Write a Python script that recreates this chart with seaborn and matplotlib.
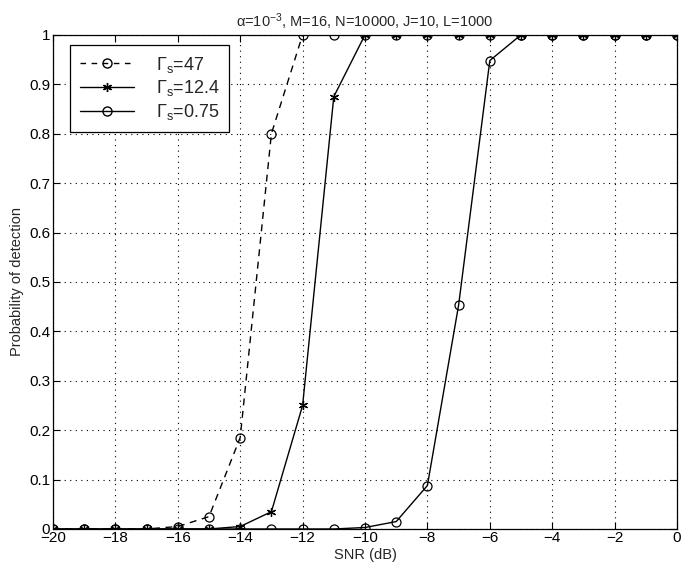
import numpy as np
import pandas as pd
import matplotlib
matplotlib.use("Agg")
import matplotlib.pyplot as plt
import seaborn as sns
from matplotlib.lines import Line2D

snr = list(range(-20, 1))
pd_47 = [0, 0, 0, 0, 0.005, 0.025, 0.185, 0.80, 1, 1, 1, 1, 1, 1, 1, 1, 1, 1, 1, 1, 1]
pd_124 = [0, 0, 0, 0, 0, 0, 0.005, 0.035, 0.25, 0.875, 1, 1, 1, 1, 1, 1, 1, 1, 1, 1, 1]
pd_075 = [0, 0, 0, 0, 0, 0, 0, 0, 0, 0, 0.003, 0.015, 0.088, 0.453, 0.948, 1, 1, 1, 1, 1, 1]
labels = [r"$\Gamma_s$=47", r"$\Gamma_s$=12.4", r"$\Gamma_s$=0.75"]
xticks = list(range(-20, 1, 2))
yticks = [round(0.1 * i, 1) for i in range(11)]
title = r"$\alpha$=10$^{-3}$, M=16, N=10000, J=10, L=1000"

sns.set_style("ticks")
plt.rcParams["font.family"] = ["Liberation Sans", "DejaVu Sans"]
plt.rcParams["mathtext.fontset"] = "custom"
plt.rcParams["mathtext.rm"] = "Liberation Sans"
plt.rcParams["mathtext.it"] = "Liberation Sans"

fig = plt.figure(figsize=(6.82, 5.66), dpi=100)
ax = fig.add_axes([0.0777, 0.0654, 0.915, 0.873])

ast = (6, 2, 0)
styles = [
    dict(marker="o", linestyle=(0, (5, 4)), markerfacecolor="none"),
    dict(marker=ast, linestyle="-"),
    dict(marker="o", linestyle="-", markerfacecolor="none"),
]
for vals, lab, st in zip([pd_47, pd_124, pd_075], labels, styles):
    d = pd.DataFrame({"snr": snr, "pd": vals})
    sns.lineplot(data=d, x="snr", y="pd", color="black", markersize=6.5,
                 linewidth=1.0, markeredgecolor="black", markeredgewidth=0.9,
                 ax=ax, sort=False, legend=False, **st)

ax.set_xlim(-20, 0)
ax.set_ylim(0, 1)
ax.set_xticks(xticks)
ax.set_xticklabels([("\u2212%d" % -t) if t < 0 else "0" for t in xticks])
ax.set_yticks(yticks)
ax.set_yticklabels(["0", "0.1", "0.2", "0.3", "0.4", "0.5", "0.6", "0.7", "0.8", "0.9", "1"])
ax.tick_params(direction="in", top=True, right=True, labelsize=11, length=5, width=0.8, colors="black")
ax.tick_params(axis="x", pad=1.5)
ax.tick_params(axis="y", pad=2)
for s in ax.spines.values():
    s.set_visible(True)
    s.set_color("black")
    s.set_linewidth(0.9)
ax.grid(True, linestyle=(0, (1, 4)), color="black", linewidth=0.8)
ax.set_xlabel("SNR (dB)", fontsize=10.5, labelpad=2)
ax.set_ylabel("Probability of detection", fontsize=10.5, labelpad=4)
ax.set_title(title, fontsize=10.5, pad=6)

handles = [
    Line2D([], [], color="black", linestyle=(0, (4, 4)), marker="o", markerfacecolor="none", markersize=6.5, linewidth=1.0),
    Line2D([], [], color="black", linestyle="-", marker=ast, markersize=6.5, linewidth=1.0),
    Line2D([], [], color="black", linestyle="-", marker="o", markerfacecolor="none", markersize=6.5, linewidth=1.0),
]
leg = ax.legend(handles, labels, loc="upper left", bbox_to_anchor=(0.027, 0.98),
                borderaxespad=0, fontsize=13, handlelength=3.0, handletextpad=1.2,
                labelspacing=0.2, frameon=True, fancybox=False, edgecolor="black",
                borderpad=0.55, framealpha=1)
leg.get_frame().set_linewidth(0.9)

fig.savefig("out.png", dpi=100)
